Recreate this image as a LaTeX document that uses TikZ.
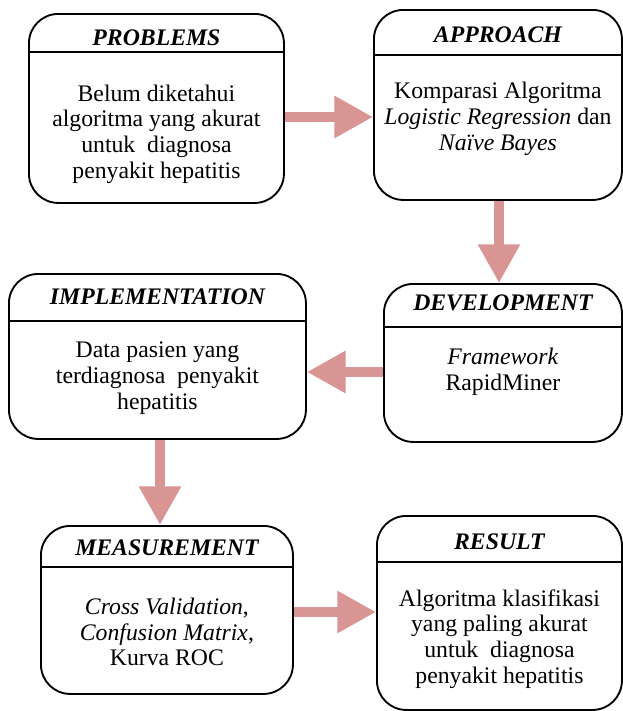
\documentclass[tikz,border=0pt]{standalone}
\usepackage{fontspec}
\setmainfont{Liberation Serif}
\usetikzlibrary{arrows.meta}
\definecolor{flowpink}{RGB}{217,149,148}
\begin{document}
\begin{tikzpicture}[
      x=0.75pt, y=-0.75pt,
      every node/.style={font=\fontsize{17.8}{19.3}\selectfont},
      stagebox/.style={draw, line width=1.4pt, rounded corners=22pt, inner sep=0pt, anchor=north west},
      ttl/.style={font=\fontsize{17.8}{19.3}\selectfont\bfseries\itshape, inner sep=0pt},
      body/.style={align=center, inner sep=0pt},
      divider/.style={line width=1.2pt},
      flow/.style={draw=flowpink, line width=6.8pt, -{Triangle[length=29pt, width=30pt]}}
    ]
      \useasboundingbox (0,0) rectangle (622,711);
      % stage boxes
      \node[stagebox, minimum width=191.25pt, minimum height=141.75pt] (prob) at (28,13) {};
      \node[stagebox, minimum width=186pt, minimum height=142.5pt] (appr) at (373,9) {};
      \node[stagebox, minimum width=222.75pt, minimum height=123.75pt] (impl) at (8,273) {};
      \node[stagebox, minimum width=178.5pt, minimum height=118.5pt] (dev) at (383,283) {};
      \node[stagebox, minimum width=189pt, minimum height=126pt] (meas) at (40,525) {};
      \node[stagebox, minimum width=183.75pt, minimum height=145.5pt] (res) at (376,515) {};
      % title lines
      \draw[divider] (prob.west |- 0,52) -- (prob.east |- 0,52);
      \draw[divider] (appr.west |- 0,55) -- (appr.east |- 0,55);
      \draw[divider] (impl.west |- 0,321) -- (impl.east |- 0,321);
      \draw[divider] (dev.west |- 0,327) -- (dev.east |- 0,327);
      \draw[divider] (meas.west |- 0,567) -- (meas.east |- 0,567);
      \draw[divider] (res.west |- 0,562) -- (res.east |- 0,562);
      % titles
      \node[ttl] (prob-t) at (prob.north |- 0,38) {PROBLEMS};
      \node[ttl] (appr-t) at (appr.north |- 0,35) {APPROACH};
      \node[ttl] (impl-t) at (impl.north |- 0,297) {IMPLEMENTATION};
      \node[ttl] (dev-t) at (dev.north |- 0,303) {DEVELOPMENT};
      \node[ttl] (meas-t) at (meas.north |- 0,548) {MEASUREMENT};
      \node[ttl] (res-t) at (res.north |- 0,542) {RESULT};
      % contents
      \node[body] (prob-b) at (prob.north |- 0,134) {Belum diketahui\\algoritma yang akurat\\untuk~ diagnosa\\penyakit hepatitis};
      \node[body] (appr-b) at (appr.north |- 0,119) {Komparasi Algoritma\\\textit{Logistic Regression} dan\\\textit{Naïve Bayes}};
      \node[body] (impl-b) at (impl.north |- 0,378) {Data pasien yang\\terdiagnosa~ penyakit\\hepatitis};
      \node[body] (dev-b) at (dev.north |- 0,372) {\textit{Framework}\\RapidMiner};
      \node[body] (meas-b) at (meas.north |- 0,632) {\textit{Cross Validation},\\\textit{Confusion Matrix},\\Kurva ROC};
      \node[body] (res-b) at (res.north |- 0,639) {Algoritma klasifikasi\\yang paling akurat\\untuk~ diagnosa\\penyakit hepatitis};
      % flow arrows
      \draw[flow] (prob.east |- 0,117) -- (appr.west |- 0,117);
      \draw[flow] (appr.south -| 499,0) -- (dev.north -| 499,0);
      \draw[flow] (dev.west |- 0,372) -- (impl.east |- 0,372);
      \draw[flow] (impl.south -| 160,0) -- (meas.north -| 160,0);
      \draw[flow] (meas.east |- 0,612) -- (res.west |- 0,612);
    \end{tikzpicture}
\end{document}
